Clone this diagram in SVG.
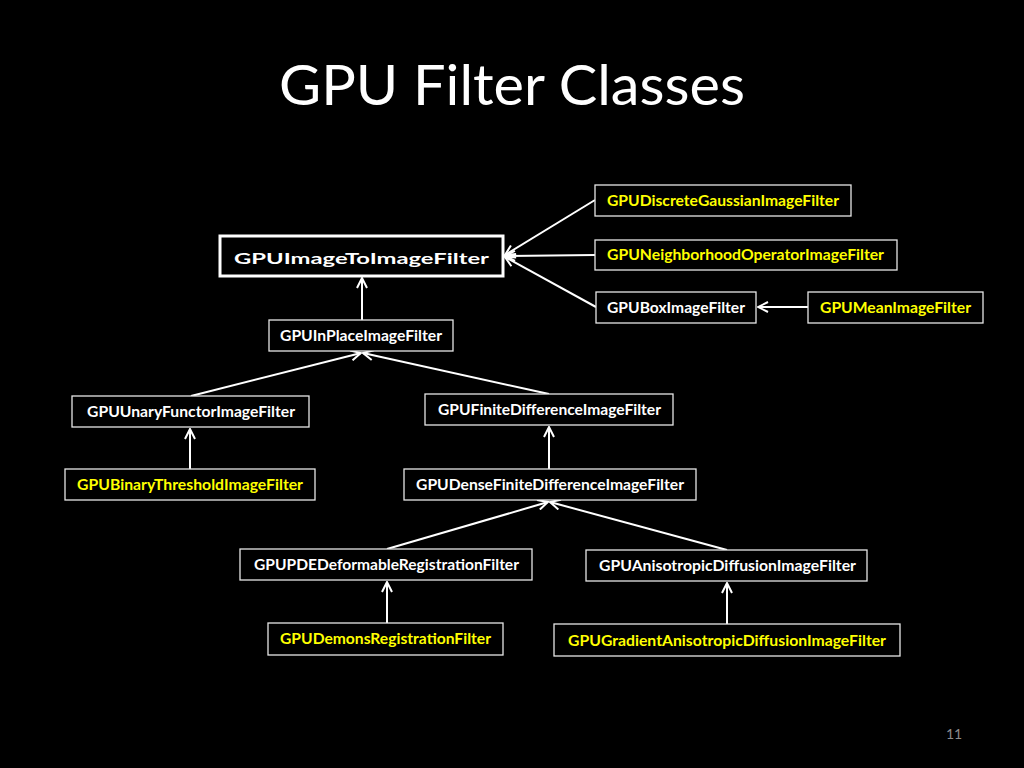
<svg xmlns="http://www.w3.org/2000/svg" width="1024" height="768" viewBox="0 0 1024 768">
<defs>
<style>
.box{fill:#000;stroke:#e6e6e6;stroke-width:1.3}
.main{fill:#000;stroke:#fff;stroke-width:3}
.t{font-family:Lato,"Open Sans","Liberation Sans",sans-serif;font-weight:bold;font-size:15px;text-anchor:middle}
.w{fill:#fff}
.y{fill:#ffff00}
.c{stroke:#fff;stroke-width:2;fill:none;marker-end:url(#ah)}
</style>
<marker id="ah" viewBox="0 0 12 12" refX="11" refY="6" markerWidth="12" markerHeight="12" markerUnits="userSpaceOnUse" orient="auto">
<path d="M1,1 L11,6 L1,11" fill="none" stroke="#fff" stroke-width="2"/>
</marker>
</defs>
<rect width="1024" height="768" fill="#000"/>
<text x="512" y="105" font-family="Lato,'Open Sans','Liberation Sans',sans-serif" font-size="56" fill="#fff" text-anchor="middle" textLength="466" lengthAdjust="spacingAndGlyphs">GPU Filter Classes</text>
<g id="connectors">
<line class="c" x1="595" y1="200" x2="505" y2="255"/>
<line class="c" x1="595" y1="255" x2="505" y2="256"/>
<line class="c" x1="596" y1="307" x2="505" y2="257"/>
<line class="c" x1="808" y1="307" x2="758" y2="307"/>
<line class="c" x1="362" y1="320" x2="362" y2="278"/>
<line class="c" x1="191" y1="396" x2="361" y2="353"/>
<line class="c" x1="549" y1="394" x2="363" y2="353"/>
<line class="c" x1="190" y1="469" x2="190" y2="429"/>
<line class="c" x1="549" y1="469" x2="549" y2="427"/>
<line class="c" x1="387" y1="549" x2="548" y2="502"/>
<line class="c" x1="727" y1="550" x2="550" y2="502"/>
<line class="c" x1="387" y1="623" x2="387" y2="582"/>
<line class="c" x1="727" y1="624" x2="727" y2="583"/>
</g>
<g id="n1"><rect class="box" x="595" y="185" width="256" height="31"/><text class="t y" x="723" y="206" textLength="232" lengthAdjust="spacingAndGlyphs">GPUDiscreteGaussianImageFilter</text></g>
<g id="n2"><rect class="main" x="220" y="236" width="283" height="40"/><text class="t w" x="361.5" y="264" font-size="22" textLength="255" lengthAdjust="spacingAndGlyphs">GPUImageToImageFilter</text></g>
<g id="n3"><rect class="box" x="595" y="240" width="302" height="30"/><text class="t y" x="745.5" y="260" textLength="277" lengthAdjust="spacingAndGlyphs">GPUNeighborhoodOperatorImageFilter</text></g>
<g id="n4"><rect class="box" x="596" y="292" width="160" height="31"/><text class="t w" x="676" y="313" textLength="138" lengthAdjust="spacingAndGlyphs">GPUBoxImageFilter</text></g>
<g id="n5"><rect class="box" x="808" y="292" width="175" height="31"/><text class="t y" x="895.5" y="313" textLength="151" lengthAdjust="spacingAndGlyphs">GPUMeanImageFilter</text></g>
<g id="n6"><rect class="box" x="269" y="320" width="184" height="31"/><text class="t w" x="361" y="341" textLength="162" lengthAdjust="spacingAndGlyphs">GPUInPlaceImageFilter</text></g>
<g id="n7"><rect class="box" x="72" y="396" width="237" height="31"/><text class="t w" x="191" y="417" textLength="208" lengthAdjust="spacingAndGlyphs">GPUUnaryFunctorImageFilter</text></g>
<g id="n8"><rect class="box" x="425" y="394" width="248" height="31"/><text class="t w" x="549.5" y="415" textLength="223" lengthAdjust="spacingAndGlyphs">GPUFiniteDifferenceImageFilter</text></g>
<g id="n9"><rect class="box" x="65" y="469" width="250" height="31"/><text class="t y" x="190" y="490" textLength="226" lengthAdjust="spacingAndGlyphs">GPUBinaryThresholdImageFilter</text></g>
<g id="n10"><rect class="box" x="404" y="469" width="292" height="31"/><text class="t w" x="550" y="490" textLength="268" lengthAdjust="spacingAndGlyphs">GPUDenseFiniteDifferenceImageFilter</text></g>
<g id="n11"><rect class="box" x="240" y="549" width="292" height="31"/><text class="t w" x="386.5" y="570" textLength="265" lengthAdjust="spacingAndGlyphs">GPUPDEDeformableRegistrationFilter</text></g>
<g id="n12"><rect class="box" x="586" y="550" width="281" height="31"/><text class="t w" x="727.5" y="571" textLength="257" lengthAdjust="spacingAndGlyphs">GPUAnisotropicDiffusionImageFilter</text></g>
<g id="n13"><rect class="box" x="268" y="623" width="235" height="32"/><text class="t y" x="385.5" y="644" textLength="211" lengthAdjust="spacingAndGlyphs">GPUDemonsRegistrationFilter</text></g>
<g id="n14"><rect class="box" x="554" y="624" width="346" height="32"/><text class="t y" x="727" y="646" textLength="318" lengthAdjust="spacingAndGlyphs">GPUGradientAnisotropicDiffusionImageFilter</text></g>
<text x="954" y="739" font-family="Lato,'Liberation Sans',sans-serif" font-size="14" fill="#8c8c8c" text-anchor="middle">11</text>
</svg>
